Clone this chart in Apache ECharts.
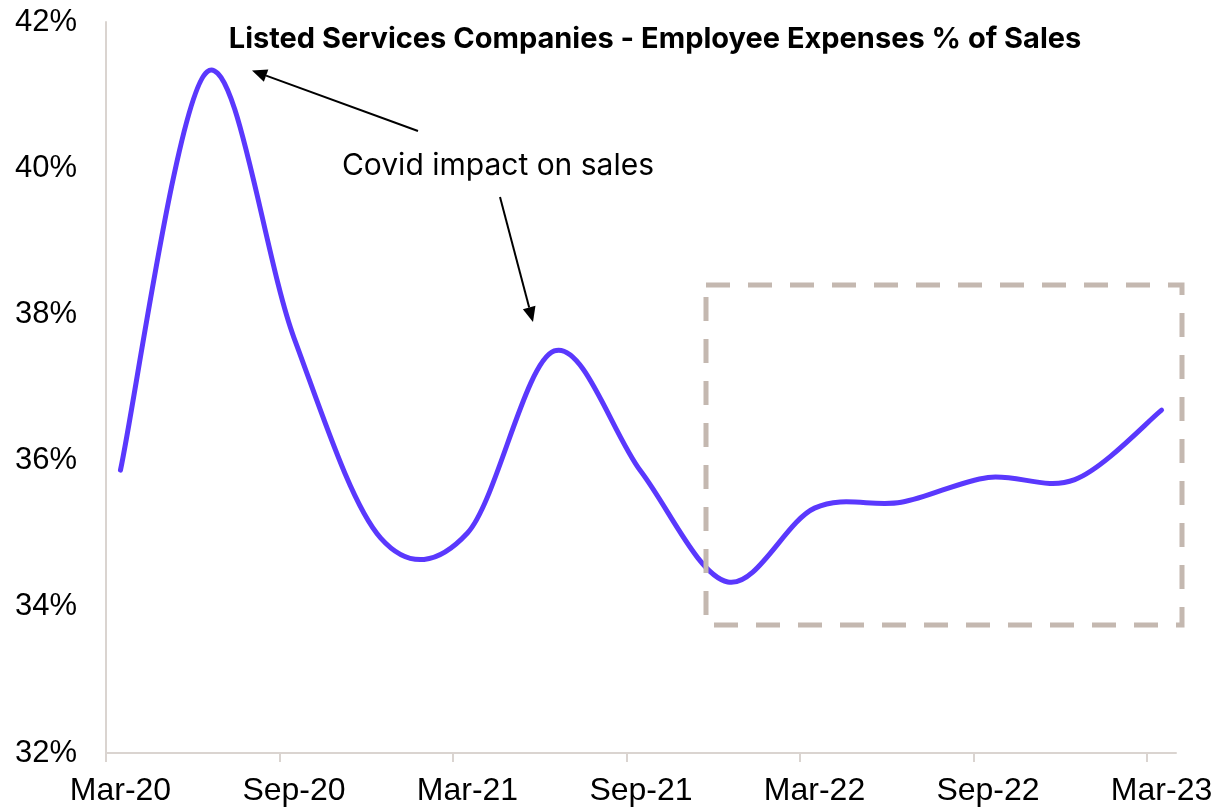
<!DOCTYPE html>
<html>
<head>
<meta charset="utf-8">
<script src="https://cdn.jsdelivr.net/npm/echarts@6/dist/echarts.min.js"></script>
<style>
  html, body { margin: 0; padding: 0; background: #fff; }
  #chart { width: 1217px; height: 809px; }
</style>
</head>
<body>
<div id="chart"></div>
<script>
// quarterly readings, employee expenses as % of sales
var quarters = ['Mar-20', 'Jun-20', 'Sep-20', 'Dec-20', 'Mar-21', 'Jun-21', 'Sep-21',
  'Dec-21', 'Mar-22', 'Jun-22', 'Sep-22', 'Dec-22', 'Mar-23'];
var expensePct = [35.87, 41.32, 37.68, 34.94, 35.01, 37.50, 35.85,
  34.34, 35.35, 35.43, 35.77, 35.74, 36.69];

var monthNames = ['Jan', 'Feb', 'Mar', 'Apr', 'May', 'Jun', 'Jul', 'Aug', 'Sep', 'Oct', 'Nov', 'Dec'];
var yMin = 32, yMax = 42, yStep = 2;

var titleText = 'Listed Services Companies - Employee Expenses % of Sales';
var noteText = 'Covid impact on sales';

// monthly date axis, Mar-20 .. Mar-23 (like the excel date axis)
var months = [];
for (var yr = 2020; yr <= 2023; yr++) {
  for (var m = 0; m < 12; m++) {
    if ((yr === 2020 && m < 2) || (yr === 2023 && m > 2)) continue;
    months.push(monthNames[m] + '-' + String(yr).slice(2));
  }
}
var pointData = quarters.map(function (q, i) {
  return [months.indexOf(q), expensePct[i]];
});

var axisGrey = '#dad4d0';
var lineColor = '#5a38fd';

function arrow(x1, y1, x2, y2) {
  var dx = x2 - x1, dy = y2 - y1;
  var len = Math.sqrt(dx * dx + dy * dy);
  var ux = dx / len, uy = dy / len;
  var head = 15, half = 6.5;
  var bx = x2 - ux * head, by = y2 - uy * head;
  return [
    { type: 'line', z: 100, shape: { x1: x1, y1: y1, x2: bx, y2: by },
      style: { stroke: '#000', lineWidth: 2 } },
    { type: 'polygon', z: 100,
      shape: { points: [[x2, y2], [bx - uy * half, by + ux * half], [bx + uy * half, by - ux * half]] },
      style: { fill: '#000' } }
  ];
}

// excel style smoothed line (catmull-rom) + month ticks on band edges
function renderCurve(params, api) {
  if (params.dataIndex !== 0) return null;
  var pts = pointData.map(function (p) { return api.coord(p); });
  var d = 'M' + pts[0][0] + ',' + pts[0][1];
  for (var i = 0; i < pts.length - 1; i++) {
    var p0 = pts[Math.max(i - 1, 0)], p1 = pts[i], p2 = pts[i + 1];
    var p3 = pts[Math.min(i + 2, pts.length - 1)];
    d += ' C' + (p1[0] + (p2[0] - p0[0]) / 6) + ',' + (p1[1] + (p2[1] - p0[1]) / 6) +
      ' ' + (p2[0] - (p3[0] - p1[0]) / 6) + ',' + (p2[1] - (p3[1] - p1[1]) / 6) +
      ' ' + p2[0] + ',' + p2[1];
  }
  var band = api.size([1, 0])[0];
  var axisY = api.coord([0, yMin])[1];
  var kids = [];
  for (var k = 0; k < months.length; k += 6) {
    var tx = Math.round(api.coord([k, yMin])[0] - band / 2);
    kids.push({ type: 'line', shape: { x1: tx, y1: axisY, x2: tx, y2: axisY + 9 },
      style: { stroke: axisGrey, lineWidth: 2 } });
  }
  kids.push({ type: 'path', shape: { pathData: d },
    style: { fill: 'none', stroke: lineColor, lineWidth: 5, lineCap: 'round', lineJoin: 'round' } });
  return { type: 'group', children: kids };
}

var chart = echarts.init(document.getElementById('chart'));
var option = {
  animation: false,
  backgroundColor: '#fff',
  grid: { left: 106, right: 41, top: 22, bottom: 56, outerBoundsMode: 'none' },
  xAxis: {
    type: 'category',
    data: months,
    boundaryGap: true,
    axisLine: { lineStyle: { color: axisGrey, width: 2 } },
    axisTick: { show: false },
    axisLabel: {
      interval: 5, color: '#000', fontFamily: 'Liberation Sans', fontSize: 32, margin: 22
    },
    splitLine: { show: false }
  },
  yAxis: {
    type: 'value',
    min: yMin, max: yMax, interval: yStep,
    axisLine: { show: true, lineStyle: { color: axisGrey, width: 2 } },
    axisTick: { show: false },
    splitLine: { show: false },
    axisLabel: {
      formatter: '{value}%', color: '#000', fontFamily: 'Liberation Sans', fontSize: 31, margin: 29
    }
  },
  series: [{
    type: 'custom',
    data: pointData,
    encode: { x: 0, y: 1 },
    clip: false,
    renderItem: renderCurve,
    z: 2
  }],
  graphic: [
    { type: 'rect', z: 100, shape: { x: 706, y: 285, width: 476, height: 340 },
      style: { fill: null, stroke: '#c4b8b0', lineWidth: 5, lineDash: [24, 18] } },
    { type: 'text', z: 100, x: 655, y: 39,
      style: { text: titleText, fontFamily: 'Inter', fontWeight: 'bold', fontSize: 29, fill: '#000',
        textAlign: 'center', textVerticalAlign: 'middle', align: 'center', verticalAlign: 'middle' } },
    { type: 'text', z: 100, x: 498, y: 166,
      style: { text: noteText, fontFamily: 'Inter', fontSize: 30, fill: '#000',
        textAlign: 'center', textVerticalAlign: 'middle', align: 'center', verticalAlign: 'middle' } }
  ].concat(arrow(418, 131, 252, 70.5)).concat(arrow(500, 197, 533, 322))
};
chart.setOption(option);
</script>
</body>
</html>
